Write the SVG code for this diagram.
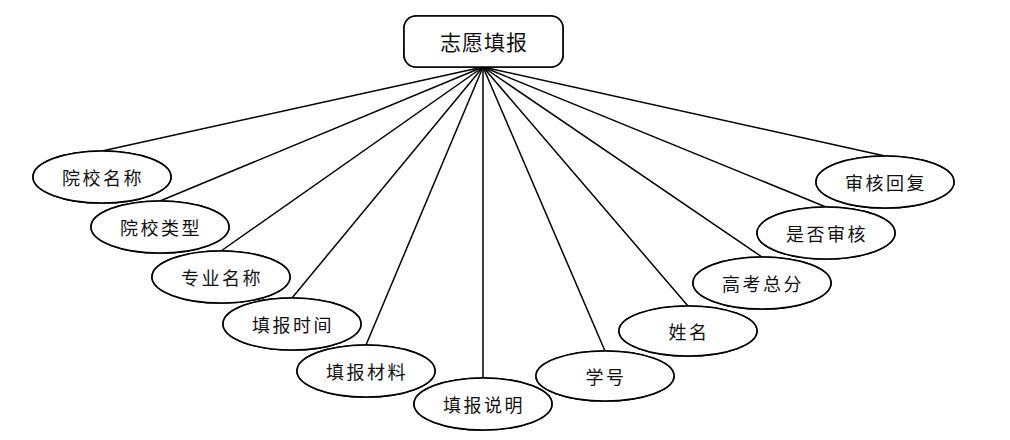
<svg xmlns="http://www.w3.org/2000/svg" width="1010" height="440" viewBox="0 0 1010 440">
<defs>
<style>
.node ellipse{fill:#fff;stroke:#000;stroke-width:1.6}
.node rect{fill:#fff;stroke:#000;stroke-width:1.6}
.glow{fill:none;stroke:#dde8f6;stroke-width:5}
text{font-family:"Noto Sans CJK SC","Noto Sans",sans-serif;font-size:18px;fill:#111;text-anchor:middle;dominant-baseline:central;letter-spacing:2.5px}
.title{font-size:21px;letter-spacing:1px}
#connectors line{stroke:#000;stroke-width:1.5}
</style>
</defs>
<rect width="1010" height="440" fill="#fff"/>
<g id="connectors">
<line x1="483" y1="67" x2="102" y2="151"/>
<line x1="483" y1="67" x2="160" y2="201"/>
<line x1="483" y1="67" x2="221" y2="251"/>
<line x1="483" y1="67" x2="292" y2="298"/>
<line x1="483" y1="67" x2="366" y2="345"/>
<line x1="483" y1="67" x2="483" y2="378"/>
<line x1="483" y1="67" x2="605" y2="351"/>
<line x1="483" y1="67" x2="688" y2="306"/>
<line x1="483" y1="67" x2="762" y2="257"/>
<line x1="483" y1="67" x2="826" y2="207"/>
<line x1="483" y1="67" x2="885" y2="156"/>
</g>
<g id="n0" class="node"><rect class="glow" x="404" y="16" width="159" height="51" rx="12"/><rect x="404" y="16" width="159" height="51" rx="12"/><text class="title" x="484" y="41">志愿填报</text></g>
<g id="n1" class="node"><ellipse class="glow" cx="102" cy="177" rx="69" ry="26"/><ellipse cx="102" cy="177" rx="69" ry="26"/><text x="103" y="177">院校名称</text></g>
<g id="n2" class="node"><ellipse class="glow" cx="160" cy="227" rx="69" ry="26"/><ellipse cx="160" cy="227" rx="69" ry="26"/><text x="161" y="227">院校类型</text></g>
<g id="n3" class="node"><ellipse class="glow" cx="221" cy="277" rx="69" ry="26"/><ellipse cx="221" cy="277" rx="69" ry="26"/><text x="222" y="277">专业名称</text></g>
<g id="n4" class="node"><ellipse class="glow" cx="292" cy="324" rx="69" ry="26"/><ellipse cx="292" cy="324" rx="69" ry="26"/><text x="293" y="324">填报时间</text></g>
<g id="n5" class="node"><ellipse class="glow" cx="366" cy="371" rx="69" ry="26"/><ellipse cx="366" cy="371" rx="69" ry="26"/><text x="367" y="371">填报材料</text></g>
<g id="n6" class="node"><ellipse class="glow" cx="483" cy="404" rx="69" ry="26"/><ellipse cx="483" cy="404" rx="69" ry="26"/><text x="484" y="404">填报说明</text></g>
<g id="n7" class="node"><ellipse class="glow" cx="605" cy="376" rx="69" ry="25"/><ellipse cx="605" cy="376" rx="69" ry="25"/><text x="606" y="376">学号</text></g>
<g id="n8" class="node"><ellipse class="glow" cx="688" cy="331" rx="69" ry="25"/><ellipse cx="688" cy="331" rx="69" ry="25"/><text x="689" y="331">姓名</text></g>
<g id="n9" class="node"><ellipse class="glow" cx="762" cy="283" rx="69" ry="26"/><ellipse cx="762" cy="283" rx="69" ry="26"/><text x="763" y="283">高考总分</text></g>
<g id="n10" class="node"><ellipse class="glow" cx="826" cy="233" rx="69" ry="26"/><ellipse cx="826" cy="233" rx="69" ry="26"/><text x="827" y="233">是否审核</text></g>
<g id="n11" class="node"><ellipse class="glow" cx="885" cy="182" rx="69" ry="26"/><ellipse cx="885" cy="182" rx="69" ry="26"/><text x="886" y="182">审核回复</text></g>
</svg>
